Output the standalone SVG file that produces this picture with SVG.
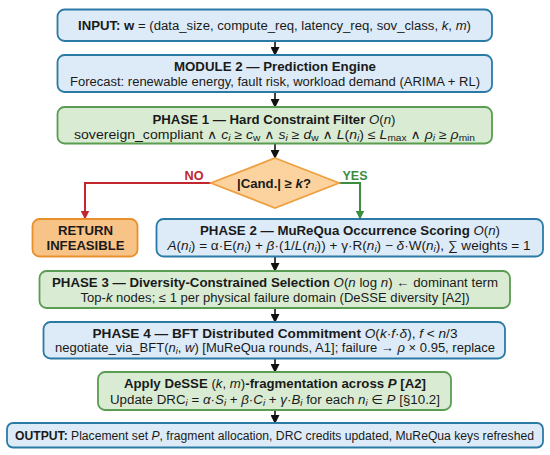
<svg xmlns="http://www.w3.org/2000/svg" width="550" height="455" viewBox="0 0 550 455">
<defs>
<style>
text{font-family:"Liberation Sans",Arial,"DejaVu Sans",sans-serif;font-size:12.5px;fill:#1a1a1a;text-anchor:middle}
.b{font-weight:bold}
.i{font-style:italic}
.s{font-size:9px;baseline-shift:-2px}
.blue{fill:#dcebf7;stroke:#2b7aa6;stroke-width:1.8}
.green{fill:#d9ecd3;stroke:#5a9c52;stroke-width:1.8}
.orange{fill:#f8c387;stroke:#e8912c;stroke-width:1.8}
.dia{fill:#fcd39e;stroke:#eea040;stroke-width:1.8}
.c{fill:none;stroke:#111;stroke-width:1.6}
.cr{fill:none;stroke:#c1272d;stroke-width:2}
.cg{fill:none;stroke:#3b8d3f;stroke-width:2}
</style>
<marker id="ab" markerUnits="userSpaceOnUse" markerWidth="9" markerHeight="9" refX="8" refY="4.5" orient="auto"><path d="M0,0 L9,4.5 L0,9 z" fill="#111"/></marker>
<marker id="ar" markerUnits="userSpaceOnUse" markerWidth="9" markerHeight="9" refX="8" refY="4.5" orient="auto"><path d="M0,0 L9,4.5 L0,9 z" fill="#c1272d"/></marker>
<marker id="ag" markerUnits="userSpaceOnUse" markerWidth="9" markerHeight="9" refX="8" refY="4.5" orient="auto"><path d="M0,0 L9,4.5 L0,9 z" fill="#3b8d3f"/></marker>
</defs>
<rect width="550" height="455" fill="#ffffff"/>

<g id="connectors">
<path class="c" d="M275 41 V55" marker-end="url(#ab)"/>
<path class="c" d="M275 92 V107" marker-end="url(#ab)"/>
<path class="c" d="M275 143.5 V158" marker-end="url(#ab)"/>
<path class="cr" d="M211 183 H85 V218.5" marker-end="url(#ar)"/>
<path class="cg" d="M339 183 H360 V218.5" marker-end="url(#ag)"/>
<path class="c" d="M275 257 V271" marker-end="url(#ab)"/>
<path class="c" d="M275 308 V322" marker-end="url(#ab)"/>
<path class="c" d="M275 358.5 V372" marker-end="url(#ab)"/>
<path class="c" d="M275 410 V423" marker-end="url(#ab)"/>
<text class="b" x="194" y="179.5" style="fill:#c1272d" textLength="19" lengthAdjust="spacingAndGlyphs">NO</text>
<text class="b" x="355" y="179.5" style="fill:#3b8d3f" textLength="25" lengthAdjust="spacingAndGlyphs">YES</text>
</g>

<g id="input">
<rect class="blue" x="57.5" y="9.5" width="434.5" height="31.5" rx="7"/>
<text x="274.5" y="30" textLength="393" lengthAdjust="spacingAndGlyphs"><tspan class="b">INPUT: w</tspan> = (data_size, compute_req, latency_req, sov_class, <tspan class="i">k</tspan>, <tspan class="i">m</tspan>)</text>
</g>

<g id="module2">
<rect class="blue" x="57.5" y="55" width="434.5" height="37" rx="7"/>
<text class="b" x="275" y="71" textLength="202" lengthAdjust="spacingAndGlyphs">MODULE 2 — Prediction Engine</text>
<text x="275" y="86" textLength="410" lengthAdjust="spacingAndGlyphs">Forecast: renewable energy, fault risk, workload demand (ARIMA + RL)</text>
</g>

<g id="phase1">
<rect class="green" x="57.5" y="107" width="434.5" height="36.5" rx="7"/>
<text x="274" y="123.5" textLength="243" lengthAdjust="spacingAndGlyphs"><tspan class="b">PHASE 1 — Hard Constraint Filter</tspan> <tspan class="i">O</tspan>(<tspan class="i">n</tspan>)</text>
<text x="274.5" y="138.5" textLength="401" lengthAdjust="spacingAndGlyphs">sovereign_compliant ∧ <tspan class="i">c</tspan><tspan class="s i">i</tspan> ≥ <tspan class="i">c</tspan><tspan class="s">w</tspan> ∧ <tspan class="i">s</tspan><tspan class="s i">i</tspan> ≥ <tspan class="i">d</tspan><tspan class="s">w</tspan> ∧ <tspan class="i">L</tspan>(<tspan class="i">n</tspan><tspan class="s i">i</tspan>) ≤ <tspan class="i">L</tspan><tspan class="s">max</tspan> ∧ <tspan class="i">ρ</tspan><tspan class="s i">i</tspan> ≥ <tspan class="i">ρ</tspan><tspan class="s">min</tspan></text>
</g>

<g id="decision">
<polygon class="dia" points="275,158 339,183 275,208 211,183"/>
<text class="b" x="274" y="187.5" textLength="74" lengthAdjust="spacingAndGlyphs">|Cand.| ≥ <tspan class="i">k</tspan>?</text>
</g>

<g id="infeasible">
<rect class="orange" x="32.5" y="219" width="105" height="37.5" rx="7"/>
<text class="b" x="85.5" y="235" textLength="55" lengthAdjust="spacingAndGlyphs">RETURN</text>
<text class="b" x="85.5" y="250" textLength="78" lengthAdjust="spacingAndGlyphs">INFEASIBLE</text>
</g>

<g id="phase2">
<rect class="blue" x="156.5" y="219" width="386.5" height="37.5" rx="7"/>
<text x="350" y="234.5" textLength="300" lengthAdjust="spacingAndGlyphs"><tspan class="b">PHASE 2 — MuReQua Occurrence Scoring</tspan> <tspan class="i">O</tspan>(<tspan class="i">n</tspan>)</text>
<text x="349" y="249.5" textLength="363" lengthAdjust="spacingAndGlyphs"><tspan class="i">A</tspan>(<tspan class="i">n</tspan><tspan class="s i">i</tspan>) = α·E(<tspan class="i">n</tspan><tspan class="s i">i</tspan>) + <tspan class="i">β</tspan>·(1/<tspan class="i">L</tspan>(<tspan class="i">n</tspan><tspan class="s i">i</tspan>)) + γ·R(<tspan class="i">n</tspan><tspan class="s i">i</tspan>) − <tspan class="i">δ</tspan>·W(<tspan class="i">n</tspan><tspan class="s i">i</tspan>), ∑ weights = 1</text>
</g>

<g id="phase3">
<rect class="green" x="39.5" y="271" width="470.5" height="37" rx="7"/>
<text x="275" y="287" textLength="446" lengthAdjust="spacingAndGlyphs"><tspan class="b">PHASE 3 — Diversity-Constrained Selection</tspan> <tspan class="i">O</tspan>(<tspan class="i">n</tspan> log <tspan class="i">n</tspan>) ← dominant term</text>
<text x="275" y="302" textLength="389" lengthAdjust="spacingAndGlyphs">Top-<tspan class="i">k</tspan> nodes; ≤ 1 per physical failure domain (DeSSE diversity [A2])</text>
</g>

<g id="phase4">
<rect class="blue" x="43.5" y="322" width="461.5" height="36.5" rx="7"/>
<text x="275" y="337.5" textLength="365" lengthAdjust="spacingAndGlyphs"><tspan class="b">PHASE 4 — BFT Distributed Commitment</tspan> <tspan class="i">O</tspan>(<tspan class="i">k</tspan>·<tspan class="i">f</tspan>·<tspan class="i">δ</tspan>), <tspan class="i">f</tspan> &lt; <tspan class="i">n</tspan>/3</text>
<text x="275" y="351.5" textLength="440" lengthAdjust="spacingAndGlyphs">negotiate_via_BFT(<tspan class="i">n</tspan><tspan class="s i">i</tspan>, <tspan class="i">w</tspan>) [MuReQua rounds, A1]; failure → <tspan class="i">ρ</tspan> × 0.95, replace</text>
</g>

<g id="desse">
<rect class="green" x="98" y="372" width="353" height="38" rx="7"/>
<text x="275" y="388" textLength="302" lengthAdjust="spacingAndGlyphs"><tspan class="b">Apply DeSSE</tspan> (<tspan class="i">k</tspan>, <tspan class="i">m</tspan>)<tspan class="b">-fragmentation across </tspan><tspan class="b i">P</tspan><tspan class="b"> [A2]</tspan></text>
<text x="275" y="403.5" textLength="330" lengthAdjust="spacingAndGlyphs">Update DRC<tspan class="s i">i</tspan> = <tspan class="i">α</tspan>·<tspan class="i">S</tspan><tspan class="s i">i</tspan> + <tspan class="i">β</tspan>·<tspan class="i">C</tspan><tspan class="s i">i</tspan> + <tspan class="i">γ</tspan>·<tspan class="i">B</tspan><tspan class="s i">i</tspan> for each <tspan class="i">n</tspan><tspan class="s i">i</tspan> ∈ <tspan class="i">P</tspan> [§10.2]</text>
</g>

<g id="output">
<rect class="blue" x="7" y="423" width="536" height="24.5" rx="6"/>
<text x="274.5" y="439.5" style="font-size:12px" textLength="519" lengthAdjust="spacingAndGlyphs"><tspan class="b">OUTPUT:</tspan> Placement set <tspan class="i">P</tspan>, fragment allocation, DRC credits updated, MuReQua keys refreshed</text>
</g>
</svg>
